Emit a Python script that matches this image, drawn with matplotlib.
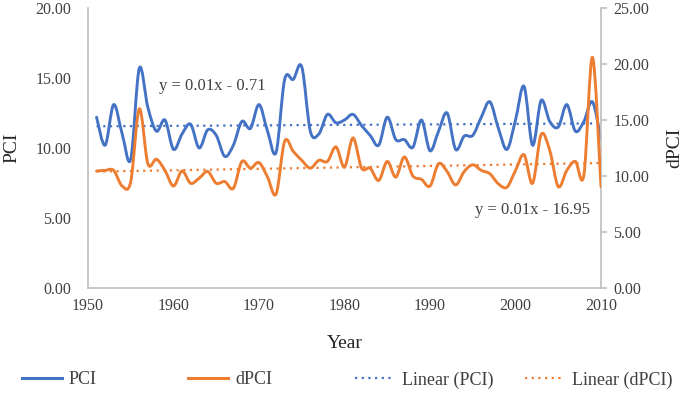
import numpy as np
import matplotlib
matplotlib.use("Agg")
import matplotlib.pyplot as plt
from matplotlib.path import Path
from matplotlib.patches import PathPatch
from matplotlib.lines import Line2D

years = list(range(1951, 2011))
pci = [12.2, 10.2, 13.1, 11.0, 9.2, 15.7, 12.9, 11.2, 12.0, 9.9,
       11.0, 11.7, 10.0, 11.3, 10.9, 9.4, 10.2, 11.9, 11.4, 13.1,
       11.2, 9.7, 14.9, 14.9, 15.8, 11.2, 11.0, 12.4, 11.8, 12.0,
       12.4, 11.6, 10.9, 10.2, 12.2, 10.6, 10.6, 10.05, 12.0, 9.8,
       11.2, 12.5, 9.9, 10.85, 10.9, 12.2, 13.3, 11.4, 9.9, 12.0,
       14.4, 10.2, 13.4, 11.9, 11.5, 13.1, 11.2, 11.9, 13.3, 10.6]
dpci = [10.45, 10.5, 10.5, 9.1, 9.5, 16.0, 11.1, 11.5, 10.5, 9.1,
        10.45, 9.35, 9.8, 10.4, 9.35, 9.5, 8.9, 11.3, 10.7, 11.2,
        9.9, 8.4, 13.1, 12.2, 11.4, 10.7, 11.4, 11.3, 12.6, 10.8,
        13.4, 10.7, 10.7, 9.6, 11.3, 9.9, 11.7, 10.0, 9.7, 9.1,
        11.1, 10.4, 9.2, 10.4, 11.0, 10.5, 10.2, 9.3, 9.0, 10.5,
        11.9, 9.35, 13.7, 12.3, 9.05, 10.5, 11.3, 10.1, 20.6, 9.05]
xticks = [1950, 1960, 1970, 1980, 1990, 2000, 2010]
left_ticks = [0, 5, 10, 15, 20]
right_ticks = [0, 5, 10, 15, 20, 25]
eq_pci = "y = 0.01x - 0.71"
eq_dpci = "y = 0.01x - 16.95"
legend_labels = ["PCI", "dPCI", "Linear (PCI)", "Linear (dPCI)"]

BLUE = "#4472C4"
ORANGE = "#ED7D31"
GRAY = "#BFBFBF"
TXT = "#404040"
plt.rcParams['font.family'] = ['Liberation Serif', 'DejaVu Serif']


def smooth_path(xs, ys):
    xs = np.asarray(xs, float)
    ys = np.asarray(ys, float)
    n = len(xs)
    verts = [(xs[0], ys[0])]
    codes = [Path.MOVETO]
    for i in range(n - 1):
        i0 = max(i - 1, 0)
        i3 = min(i + 2, n - 1)
        c1 = (xs[i] + (xs[i + 1] - xs[i0]) / 6.0, ys[i] + (ys[i + 1] - ys[i0]) / 6.0)
        c2 = (xs[i + 1] - (xs[i3] - xs[i]) / 6.0, ys[i + 1] - (ys[i3] - ys[i]) / 6.0)
        verts += [c1, c2, (xs[i + 1], ys[i + 1])]
        codes += [Path.CURVE4] * 3
    return Path(verts, codes)


W, H = 685, 394
fig = plt.figure(figsize=(W / 100, H / 100), dpi=100)
ax = fig.add_axes([88 / W, 1 - 288 / H, (601 - 88) / W, (288 - 8) / H])
ax2 = ax.twinx()

ax.set_xlim(1950, 2010)
ax.set_ylim(0, 20)
ax2.set_ylim(0, 25)

ax.add_patch(PathPatch(smooth_path(years, pci), fill=False, edgecolor=BLUE,
                       lw=2.1, capstyle='round', joinstyle='round', zorder=3))
ax2.add_patch(PathPatch(smooth_path(years, dpci), fill=False, edgecolor=ORANGE,
                        lw=2.1, capstyle='round', joinstyle='round', zorder=3))

yr = np.array(years, float)
p1 = np.polyfit(yr, pci, 1)
p2 = np.polyfit(yr, dpci, 1)
ends = np.array([years[0], years[-1]], float)
ax.plot(ends, np.polyval(p1, ends), ls=(0, (1, 2)), color=BLUE, lw=1.6)
ax2.plot(ends, np.polyval(p2, ends), ls=(0, (1, 2)), color=ORANGE, lw=1.6)

for a in (ax, ax2):
    for s in a.spines.values():
        s.set_visible(False)
ax.spines['left'].set_visible(True)
ax.spines['left'].set_color(GRAY)
ax.spines['bottom'].set_visible(True)
ax.spines['bottom'].set_color(GRAY)
ax2.spines['right'].set_visible(True)
ax2.spines['right'].set_color(GRAY)
for a in (ax, ax2):
    for s in a.spines.values():
        s.set_linewidth(1.2)

ax.set_xticks(xticks)
ax.set_xticklabels([str(t) for t in xticks])
ax.set_yticks(left_ticks)
ax.set_yticklabels([f"{t:.2f}" for t in left_ticks])
ax2.set_yticks(right_ticks)
ax2.set_yticklabels([f"{t:.2f}" for t in right_ticks])

ax.tick_params(axis='x', length=0, pad=7, labelsize=11.5, labelcolor=TXT)
ax.tick_params(axis='y', length=0, pad=12, labelsize=11.5, labelcolor=TXT)
ax2.tick_params(axis='y', length=4, width=1.2, color=GRAY, pad=5, labelsize=11.5, labelcolor=TXT)

ax.set_xlabel("Year", fontsize=14, color="#262626")
ax.xaxis.set_label_coords(0.5, -(343 - 288) / 280)
ax.set_ylabel("PCI", fontsize=14, color="#262626")
ax.yaxis.set_label_coords((12 - 88) / 513, 0.5)
ax2.set_ylabel("dPCI", fontsize=14, color="#262626", rotation=90)
ax2.yaxis.set_label_coords((675 - 88) / 513, 0.5)
ax.xaxis.label.set_va('center')
ax.yaxis.label.set_va('center')
ax2.yaxis.label.set_va('center')

ax.text(1964.5, 14.45, eq_pci, ha='center', va='center', fontsize=12, color=TXT)
ax.text(2002.0, 5.55, eq_dpci, ha='center', va='center', fontsize=12, color=TXT)

handles = [Line2D([], [], color=BLUE, lw=2.2),
           Line2D([], [], color=ORANGE, lw=2.2),
           Line2D([], [], color=BLUE, lw=1.6, ls=(0, (1, 2))),
           Line2D([], [], color=ORANGE, lw=1.6, ls=(0, (1, 2)))]
starts = [22, 188, 355, 525]
for h, lab, x0 in zip(handles, legend_labels, starts):
    fig.legend([h], [lab], loc='center left', bbox_to_anchor=(x0 / W, 1 - 380 / H),
               frameon=False, fontsize=13, handlelength=2.2, handletextpad=0.4,
               borderpad=0, borderaxespad=0, labelcolor=TXT)

fig.savefig("out.png", dpi=100)
